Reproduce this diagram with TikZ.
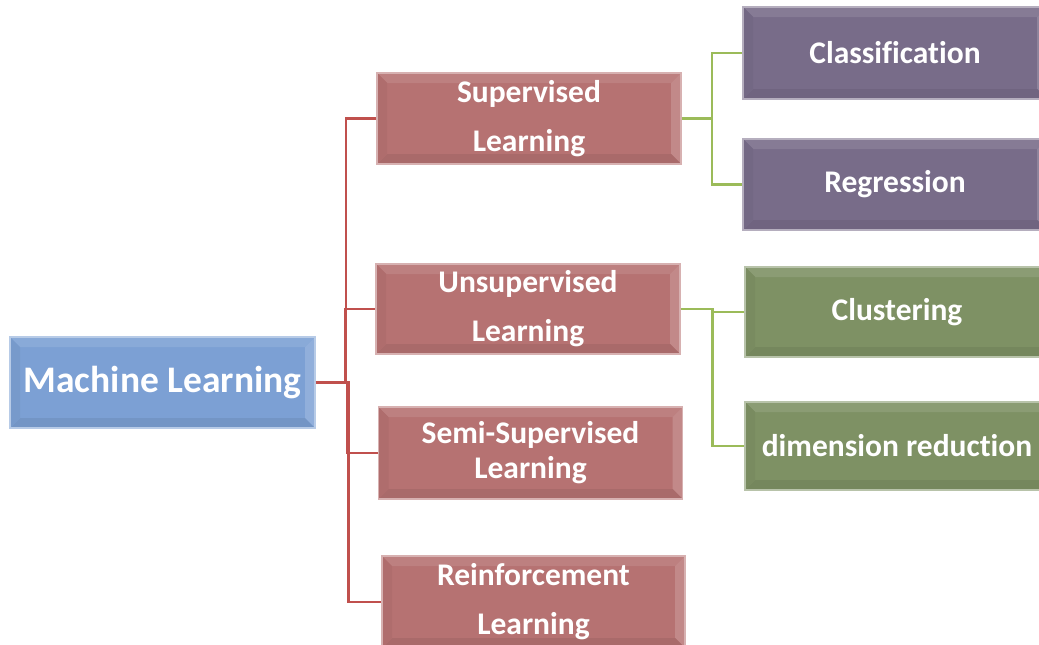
\documentclass[tikz,border=0pt]{standalone}
\usepackage{fontspec}
\setmainfont{Carlito}[Ligatures=NoCommon]
\usetikzlibrary{calc}
\definecolor{rootc}{RGB}{124,160,212}
\definecolor{redc}{RGB}{182,114,114}
\definecolor{purc}{RGB}{120,108,137}
\definecolor{grnc}{RGB}{126,145,100}
\definecolor{redline}{RGB}{192,80,77}
\definecolor{grnline}{RGB}{155,187,89}
\tikzset{
  bbox/.style={draw=#1!55!white, line width=1.6pt, fill=#1, text=white,
    align=center, inner sep=0pt, minimum width=304pt, minimum height=91pt,
    font={\fontsize{31.5}{49}\selectfont\bfseries},
    path picture={
      \fill[#1!90!white] (path picture bounding box.north west) -- (path picture bounding box.north east)
        -- ([shift={(-10pt,-10pt)}]path picture bounding box.north east) -- ([shift={(10pt,-10pt)}]path picture bounding box.north west) -- cycle;
      \fill[#1!84!white] (path picture bounding box.north east) -- (path picture bounding box.south east)
        -- ([shift={(-10pt,10pt)}]path picture bounding box.south east) -- ([shift={(-10pt,-10pt)}]path picture bounding box.north east) -- cycle;
      \fill[#1!93!black] (path picture bounding box.south west) -- (path picture bounding box.south east)
        -- ([shift={(-10pt,10pt)}]path picture bounding box.south east) -- ([shift={(10pt,10pt)}]path picture bounding box.south west) -- cycle;
      \fill[#1!96!black] (path picture bounding box.north west) -- (path picture bounding box.south west)
        -- ([shift={(10pt,10pt)}]path picture bounding box.south west) -- ([shift={(10pt,-10pt)}]path picture bounding box.north west) -- cycle;
    }},
  rline/.style={draw=redline, line width=2.4pt},
  gline/.style={draw=grnline, line width=2.4pt}
}
\begin{document}
\begin{tikzpicture}[x=1pt,y=-1pt]
\useasboundingbox (0,0) rectangle (1039,645);
\clip (0,0) rectangle (1039,645);
\node[bbox=rootc, minimum width=305pt, font={\fontsize{37.5}{44}\selectfont\bfseries}] (ml) at (162.5,382.5) {Machine Learning};
\node[bbox=redc] (sup) at (529,118.5) {Supervised\\Learning};
\node[bbox=redc, minimum height=90pt] (uns) at (528,309) {Unsupervised\\Learning};
\node[bbox=redc, minimum height=92pt, font={\fontsize{31.5}{35}\selectfont\bfseries}] (semi) at (530.5,453) {Semi-Supervised\\Learning};
\node[bbox=redc, minimum width=303pt, minimum height=92pt] (rein) at (533.5,602) {Reinforcement\\Learning};
\node[bbox=purc, minimum height=92pt] (cls) at (895,53) {Classification};
\node[bbox=purc] (reg) at (895,184.5) {Regression};
\node[bbox=grnc, minimum height=90pt] (clu) at (897,312) {Clustering};
\node[bbox=grnc, minimum height=88pt] (dim) at (897,446) {dimension reduction};
\foreach \c in {sup,uns,semi,rein}{
  \draw[rline] (ml.east) -| ($(ml.east)!.5!(\c.west)$) |- (\c.west);
}
\foreach \p/\c in {sup/cls,sup/reg,uns/clu,uns/dim}{
  \draw[gline] (\p.east) -| ($(\p.east)!.5!(\c.west)$) |- (\c.west);
}
\end{tikzpicture}
\end{document}
